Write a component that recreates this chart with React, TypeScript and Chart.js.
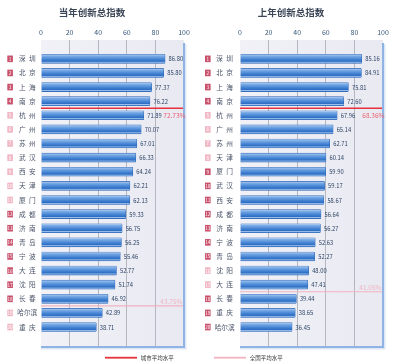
import React, { useEffect, useRef } from "react";
import { Chart, registerables } from "chart.js";

Chart.register(...registerables);

const FONT = '"Noto Sans CJK SC", "Noto Sans", sans-serif';

const leftTitle = "当年创新总指数";
const leftCities = ["深圳", "北京", "上海", "南京", "杭州", "广州", "苏州", "武汉", "西安", "天津", "厦门", "成都", "济南", "青岛", "宁波", "大连", "沈阳", "长春", "哈尔滨", "重庆"];
const leftValues = [86.8, 85.8, 77.37, 76.22, 71.89, 70.07, 67.01, 66.33, 64.24, 62.21, 62.13, 59.33, 56.75, 56.25, 55.46, 52.77, 51.74, 46.92, 42.89, 38.71];
const leftBadgeDark = [1, 1, 1, 1, 0, 0, 0, 0, 0, 0, 0, 1, 1, 1, 1, 1, 1, 1, 0, 0];
const leftCityAvg = 72.73;
const leftNationalAvg = 43.75;

const rightTitle = "上年创新总指数";
const rightCities = ["深圳", "北京", "上海", "南京", "杭州", "广州", "苏州", "天津", "厦门", "武汉", "西安", "成都", "济南", "宁波", "青岛", "沈阳", "大连", "长春", "重庆", "哈尔滨"];
const rightValues = [85.16, 84.91, 75.81, 72.6, 67.96, 65.14, 62.71, 60.14, 59.9, 59.17, 58.67, 56.64, 56.27, 52.63, 52.27, 48.0, 47.41, 39.44, 38.65, 36.45];
const rightBadgeDark = [1, 1, 1, 1, 0, 0, 0, 0, 1, 1, 1, 1, 1, 1, 1, 0, 0, 1, 1, 1];
const rightCityAvg = 68.36;
const rightNationalAvg = 41.05;

const xTickMin = 0;
const xTickMax = 100;
const xTickStep = 20;
const legendLabels = ["城市平均水平", "全国平均水平"];

const CITY_COLOR = "#e5323c";
const NATION_COLOR = "#f2b3bf";

type PanelProps = {
  title: string;
  cities: string[];
  values: number[];
  badgeDark: number[];
  cityAvg: number;
  nationalAvg: number;
  legendIndex: number;
  legendX: number;
  labelPad: number;
  badgeX: number;
  left: number;
  width: number;
};

const spaced = (s: string) => (s.length === 2 ? s[0] + "\u2002" + s[1] : s);
const slotOf = (avg: number, vals: number[]) => vals.filter((v) => v > avg).length - 0.5;

function Panel(p: PanelProps) {
  const ref = useRef<HTMLCanvasElement>(null);
  useEffect(() => {
    const canvas = ref.current!;
    const citySlot = slotOf(p.cityAvg, p.values);
    const natSlot = slotOf(p.nationalAvg, p.values);

    const decor = {
      id: "decor",
      beforeDraw(chart: any) {
        const { ctx, chartArea: a } = chart;
        ctx.save();
        const g = ctx.createLinearGradient(a.left, 0, a.right, 0);
        g.addColorStop(0, "#f1f1f7");
        g.addColorStop(1, "#e9e9f2");
        ctx.fillStyle = g;
        ctx.fillRect(a.left, a.top, a.right - a.left, a.bottom - a.top);
        ctx.restore();
      },
      afterDraw(chart: any) {
        const { ctx, chartArea: a, scales } = chart;
        ctx.save();
        // frame (right & bottom)
        ctx.fillStyle = "#dde8f6";
        ctx.fillRect(a.right + 1, a.top + 4, 1.5, a.bottom - a.top - 2);
        ctx.fillRect(a.left, a.bottom + 1, a.right - a.left + 2.5, 1.5);
        ctx.fillStyle = "#8fb4e3";
        ctx.fillRect(a.right - 1, a.top + 3, 2, a.bottom - a.top - 2);
        ctx.fillRect(a.left, a.bottom - 1, a.right - a.left + 1, 2);

        // badges
        const ys = scales.y;
        p.cities.forEach((_, i) => {
          const y = ys.getPixelForValue(i);
          ctx.fillStyle = p.badgeDark[i] ? "#c9516c" : "#f1b7c5";
          ctx.fillRect(p.badgeX, y - 3.3, 5.6, 6.6);
          ctx.fillStyle = "#ffffff";
          ctx.font = `4.6px ${FONT}`;
          ctx.textAlign = "center";
          ctx.textBaseline = "middle";
          ctx.fillText(String(i + 1), p.badgeX + 2.8, y + 0.2);
        });

        // value labels
        const meta = chart.getDatasetMeta(2);
        ctx.fillStyle = "#2c4464";
        ctx.font = `5.8px ${FONT}`;
        ctx.textAlign = "left";
        ctx.textBaseline = "middle";
        meta.data.forEach((bar: any, i: number) => {
          ctx.fillText(p.values[i].toFixed(2), bar.x + 3.5, bar.y + 0.3);
        });

        // average labels
        const cy = ys.getPixelForValue(citySlot);
        const ny = ys.getPixelForValue(natSlot);
        ctx.font = `6.5px ${FONT}`;
        ctx.textAlign = "right";
        ctx.fillStyle = "#ea6473";
        ctx.fillText(p.cityAvg.toFixed(2) + "%", a.right + 1.5, cy + 7);
        ctx.fillStyle = "#f0b4c0";
        ctx.fillText(p.nationalAvg.toFixed(2) + "%", a.right - 1.5, ny - 4);

        // legend
        const ds = chart.data.datasets[p.legendIndex];
        const ly = 357.7;
        ctx.fillStyle = ds.borderColor;
        ctx.fillRect(p.legendX, ly - 0.9, 32, 1.8);
        ctx.fillStyle = "#333333";
        ctx.font = `5.5px ${FONT}`;
        ctx.textAlign = "left";
        ctx.textBaseline = "middle";
        ctx.fillText(ds.label, p.legendX + 35.7, ly);
        ctx.restore();
      },
    };

    const barFill = (c: any) => {
      const ys = c.chart.scales && c.chart.scales.y;
      if (!ys || c.dataIndex == null) return "#4a86d4";
      const yc = ys.getPixelForValue(c.dataIndex);
      if (!isFinite(yc)) return "#4a86d4";
      const g = c.chart.ctx.createLinearGradient(0, yc - 4.5, 0, yc + 4.5);
      g.addColorStop(0, "#b8d2f2");
      g.addColorStop(0.2, "#7aabe6");
      g.addColorStop(0.55, "#4584d3");
      g.addColorStop(0.78, "#2d6dc3");
      g.addColorStop(0.87, "#9ec1ec");
      g.addColorStop(1, "#3a77c7");
      return g;
    };

    const chart = new Chart(canvas, {
      type: "bar",
      data: {
        datasets: [
          {
            type: "line",
            label: legendLabels[0],
            data: [
              { x: xTickMin, y: citySlot },
              { x: xTickMax, y: citySlot },
            ],
            borderColor: CITY_COLOR,
            backgroundColor: CITY_COLOR,
            borderWidth: 1.6,
            pointRadius: 0,
          },
          {
            type: "line",
            label: legendLabels[1],
            data: [
              { x: xTickMin, y: natSlot },
              { x: xTickMax, y: natSlot },
            ],
            borderColor: NATION_COLOR,
            backgroundColor: NATION_COLOR,
            borderWidth: 1.2,
            pointRadius: 0,
          },
          {
            type: "bar",
            label: p.title,
            data: p.values.map((v, i) => ({ x: v, y: i })),
            barThickness: 9,
            backgroundColor: barFill,
            borderColor: "#2f68b6",
            borderWidth: 0.6,
            borderRadius: 1,
            borderSkipped: "start",
          },
        ] as any,
      },
      options: {
        indexAxis: "y",
        animation: false,
        responsive: false,
        devicePixelRatio: 1,
        events: [],
        layout: { padding: { left: 0, right: p.width - 184, top: 0, bottom: 17 } },
        scales: {
          x: {
            type: "linear",
            position: "top",
            min: xTickMin,
            max: xTickMax,
            ticks: {
              stepSize: xTickStep,
              padding: 3.5,
              color: "#3a5878",
              font: { size: 7, family: FONT },
            },
            grid: {
              drawTicks: false,
              color: (c: any) =>
                c.tick && (c.tick.value === xTickMin || c.tick.value === xTickMax) ? "rgba(0,0,0,0)" : "#b4b6c0",
              lineWidth: 1,
            },
            border: { display: false },
            afterFit: (s: any) => {
              s.height = 17.6;
            },
          },
          y: {
            type: "linear",
            reverse: true,
            min: -0.79,
            max: 19.87,
            afterBuildTicks: (s: any) => {
              s.ticks = p.cities.map((_, i) => ({ value: i }));
            },
            ticks: {
              autoSkip: false,
              callback: (v: any) => spaced(p.cities[v] ?? ""),
              crossAlign: "center",
              padding: p.labelPad,
              color: "#4a5468",
              font: { size: 6.7, family: FONT },
            },
            grid: { display: false, drawTicks: false },
            border: { display: false },
            afterFit: (s: any) => {
              s.width = 41;
            },
          },
        },
        plugins: {
          legend: { display: false },
          tooltip: { enabled: false },
          title: {
            display: true,
            text: p.title,
            color: "#3a4556",
            font: { size: 9.5, weight: "bold", family: FONT },
            padding: { top: 7, bottom: 4 },
          },
        },
      } as any,
      plugins: [decor],
    });
    return () => chart.destroy();
  }, []);
  return (
    <canvas
      ref={ref}
      width={p.width}
      height={364}
      style={{ position: "absolute", left: p.left, top: 0, width: p.width, height: 364 }}
    />
  );
}

export default function App() {
  return (
    <div style={{ position: "fixed", left: 0, top: 0, width: 393, height: 364, background: "#ffffff", overflow: "hidden" }}>
      <Panel
        title={leftTitle}
        cities={leftCities}
        values={leftValues}
        badgeDark={leftBadgeDark}
        cityAvg={leftCityAvg}
        nationalAvg={leftNationalAvg}
        legendIndex={0}
        legendX={105}
        labelPad={3.7}
        badgeX={7.3}
        left={0}
        width={194}
      />
      <Panel
        title={rightTitle}
        cities={rightCities}
        values={rightValues}
        badgeDark={rightBadgeDark}
        cityAvg={rightCityAvg}
        nationalAvg={rightNationalAvg}
        legendIndex={1}
        legendX={15}
        labelPad={5.3}
        badgeX={6}
        left={199}
        width={194}
      />
    </div>
  );
}
